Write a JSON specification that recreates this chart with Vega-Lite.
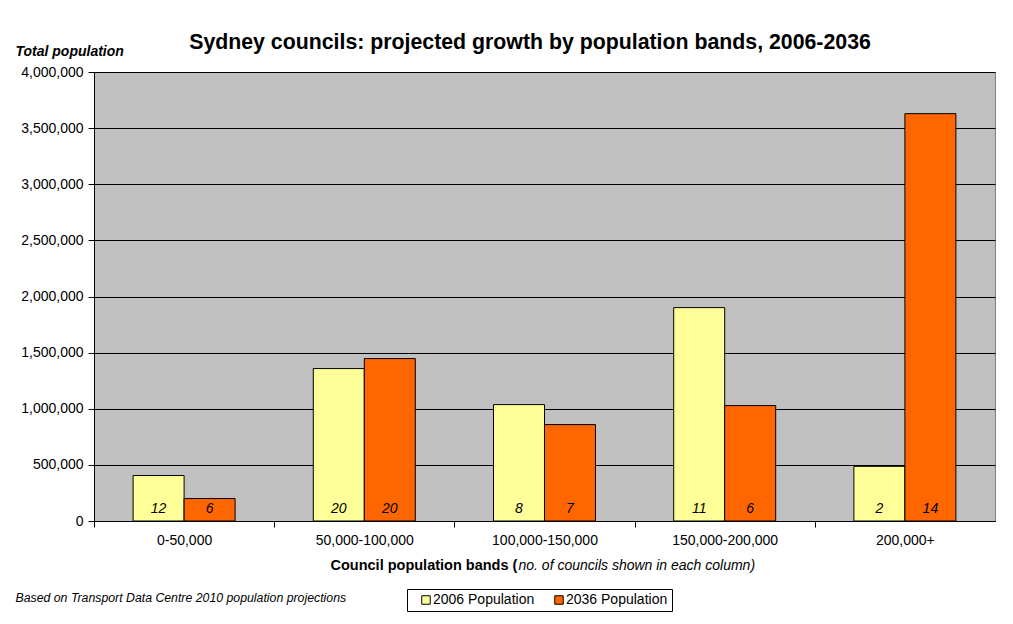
{
  "$schema": "https://vega.github.io/schema/vega-lite/v6.json",
  "width": 901,
  "height": 449,
  "autosize": {"type": "none"},
  "padding": {"left": 94, "top": 72, "right": 18, "bottom": 103},
  "background": "white",
  "title": {
    "text": "Sydney councils: projected growth by population bands, 2006-2036",
    "font": "Liberation Sans",
    "fontSize": 21.3,
    "fontWeight": "bold",
    "color": "black",
    "anchor": "middle",
    "frame": "group",
    "dx": -14.5,
    "offset": -9
  },
  "data": {
    "values": [
      {"band": "0-50,000", "series": "2006 Population", "population": 405000, "councils": 12},
      {"band": "0-50,000", "series": "2036 Population", "population": 200000, "councils": 6},
      {"band": "50,000-100,000", "series": "2006 Population", "population": 1358000, "councils": 20},
      {"band": "50,000-100,000", "series": "2036 Population", "population": 1447000, "councils": 20},
      {"band": "100,000-150,000", "series": "2006 Population", "population": 1037000, "councils": 8},
      {"band": "100,000-150,000", "series": "2036 Population", "population": 859000, "councils": 7},
      {"band": "150,000-200,000", "series": "2006 Population", "population": 1901000, "councils": 11},
      {"band": "150,000-200,000", "series": "2036 Population", "population": 1028000, "councils": 6},
      {"band": "200,000+", "series": "2006 Population", "population": 487000, "councils": 2},
      {"band": "200,000+", "series": "2036 Population", "population": 3629000, "councils": 14}
    ]
  },
  "layer": [
    {
      "mark": {"type": "bar", "stroke": "black", "strokeWidth": 1},
      "encoding": {
        "x": {
          "field": "band",
          "type": "nominal",
          "sort": ["0-50,000", "50,000-100,000", "100,000-150,000", "150,000-200,000", "200,000+"],
          "scale": {"paddingInner": 0.434, "paddingOuter": 0.217},
          "axis": {
            "orient": "bottom",
            "labelAngle": 0,
            "labelFontSize": 14,
            "labelPadding": 6,
            "tickOffset": -90.1,
            "labelOffset": 90.1,
            "tickSize": 6,
            "title": "Council population bands (",
            "titleFontSize": 14.5,
            "titleFontWeight": "bold",
            "titleAlign": "left",
            "titleAnchor": "start",
            "titleBaseline": "middle",
            "titleX": 236,
            "titleY": 44
          }
        },
        "xOffset": {
          "field": "series",
          "type": "nominal",
          "scale": {"paddingInner": 0, "paddingOuter": 0}
        },
        "y": {
          "field": "population",
          "type": "quantitative",
          "scale": {"domain": [0, 4000000], "nice": false},
          "axis": {
            "orient": "left",
            "values": [0, 500000, 1000000, 1500000, 2000000, 2500000, 3000000, 3500000, 4000000],
            "format": ",.0f",
            "labelFontSize": 14,
            "labelPadding": 5,
            "tickSize": 6,
            "grid": true,
            "title": "Total population",
            "titleAngle": 0,
            "titleFontSize": 14,
            "titleFontWeight": "bold",
            "titleFontStyle": "italic",
            "titleAlign": "left",
            "titleBaseline": "middle",
            "titleX": -79,
            "titleY": -21
          }
        },
        "fill": {
          "field": "series",
          "type": "nominal",
          "scale": {"domain": ["2006 Population", "2036 Population"], "range": ["#FFFF99", "#FF6600"]},
          "legend": {
            "orient": "none",
            "legendX": 313,
            "legendY": 517,
            "direction": "horizontal",
            "title": null,
            "strokeColor": "black",
            "fillColor": "white",
            "padding": 4,
            "columnPadding": 9,
            "symbolOffset": 8,
            "symbolType": "square",
            "symbolSize": 72,
            "symbolStrokeColor": "black",
            "symbolStrokeWidth": 1,
            "symbolOpacity": 1,
            "labelFontSize": 14,
            "labelOffset": 0,
            "labelColor": "black"
          }
        }
      }
    },
    {
      "mark": {"type": "text", "fontStyle": "italic", "fontSize": 14, "color": "black", "baseline": "middle", "dy": -12},
      "encoding": {
        "x": {
          "field": "band",
          "type": "nominal",
          "sort": ["0-50,000", "50,000-100,000", "100,000-150,000", "150,000-200,000", "200,000+"],
          "axis": {
            "orient": "bottom",
            "labels": false,
            "ticks": false,
            "domain": false,
            "grid": false,
            "title": "no. of councils shown in each column)",
            "titleFontSize": 14,
            "titleFontWeight": "normal",
            "titleFontStyle": "italic",
            "titleAlign": "left",
            "titleAnchor": "start",
            "titleBaseline": "middle",
            "titleX": 424,
            "titleY": 44
          }
        },
        "xOffset": {"field": "series", "type": "nominal"},
        "y": {
          "datum": 0,
          "type": "quantitative",
          "axis": {
            "orient": "left",
            "labels": false,
            "ticks": false,
            "domain": false,
            "grid": false,
            "title": "Based on Transport Data Centre 2010 population projections",
            "titleAngle": 0,
            "titleFontSize": 12.3,
            "titleFontWeight": "normal",
            "titleFontStyle": "italic",
            "titleAlign": "left",
            "titleBaseline": "middle",
            "titleX": -79,
            "titleY": 525
          }
        },
        "text": {"field": "councils", "type": "quantitative"}
      }
    }
  ],
  "resolve": {"axis": {"x": "independent", "y": "independent"}},
  "config": {
    "font": "Liberation Sans",
    "view": {"fill": "#C0C0C0", "stroke": "#808080", "strokeWidth": 1},
    "axis": {
      "labelColor": "black",
      "titleColor": "black",
      "domainColor": "black",
      "tickColor": "black",
      "gridColor": "black",
      "gridOpacity": 1,
      "gridWidth": 1,
      "domainWidth": 1,
      "labelFont": "Liberation Sans",
      "titleFont": "Liberation Sans"
    },
    "legend": {"labelFont": "Liberation Sans"}
  }
}
